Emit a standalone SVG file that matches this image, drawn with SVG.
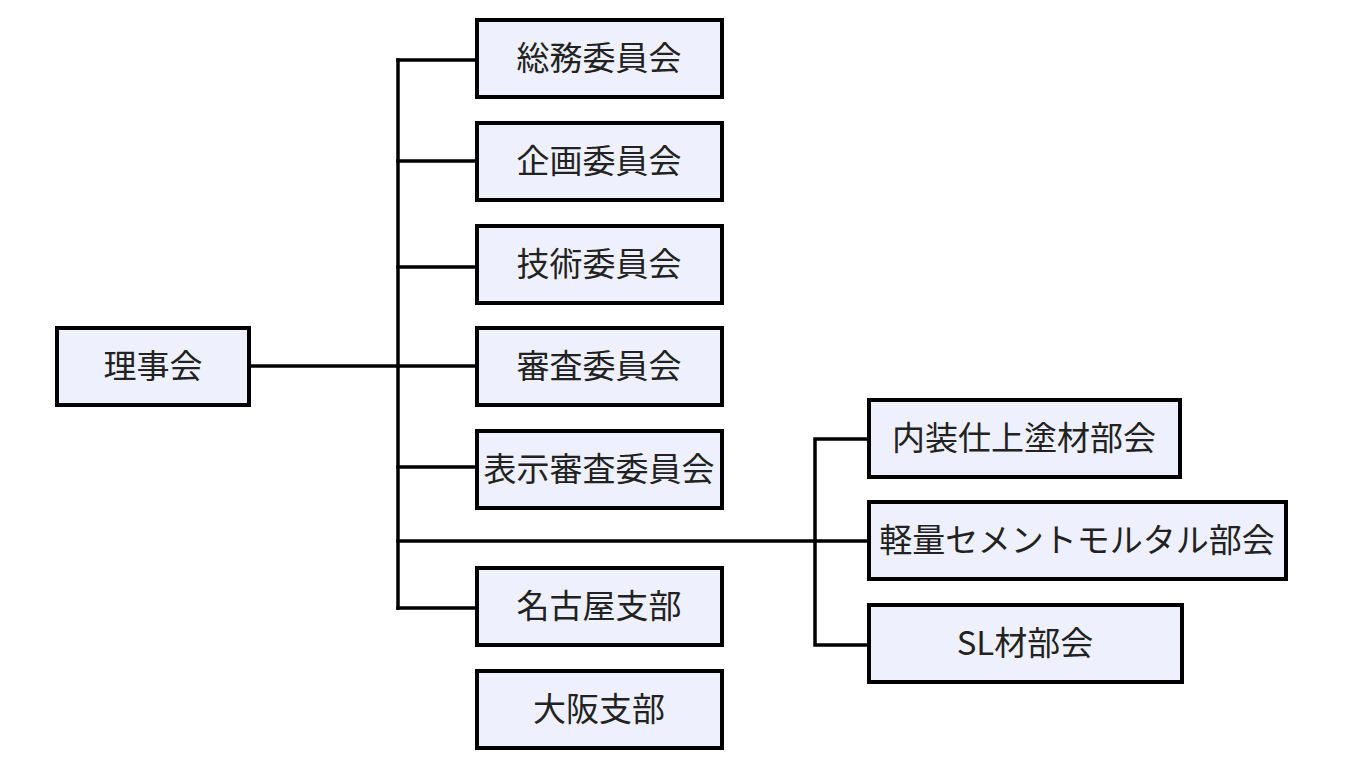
<svg xmlns="http://www.w3.org/2000/svg" width="1366" height="768" viewBox="0 0 1366 768">
<style>
.box{fill:#eef1fd;stroke:#000;stroke-width:4}
.t{font-family:"Noto Sans CJK JP","Noto Sans",sans-serif;font-size:33px;fill:#222;text-anchor:middle}
.c{fill:none;stroke:#000;stroke-width:3.5;stroke-linecap:square}
</style>
<rect width="1366" height="768" fill="#fff"/>
<g id="connectors">
<path class="c" d="M251 366H475"/>
<path class="c" d="M398 60V608"/>
<path class="c" d="M398 60H475M398 161H475M398 267H475M398 467H475M398 608H475"/>
<path class="c" d="M398 541H867"/>
<path class="c" d="M815 439V645M815 439H867M815 645H867"/>
</g>
<g id="n-rijikai"><rect class="box" x="57" y="328" width="192" height="77"/><text class="t" x="153" y="378">理事会</text></g>
<g id="n-somu"><rect class="box" x="477" y="20" width="245" height="77"/><text class="t" x="599" y="70">総務委員会</text></g>
<g id="n-kikaku"><rect class="box" x="477" y="123" width="245" height="77"/><text class="t" x="599" y="173">企画委員会</text></g>
<g id="n-gijutsu"><rect class="box" x="477" y="226" width="245" height="77"/><text class="t" x="599" y="276">技術委員会</text></g>
<g id="n-shinsa"><rect class="box" x="477" y="328" width="245" height="77"/><text class="t" x="599" y="378">審査委員会</text></g>
<g id="n-hyoji"><rect class="box" x="477" y="431" width="245" height="77"/><text class="t" x="599" y="481">表示審査委員会</text></g>
<g id="n-nagoya"><rect class="box" x="477" y="568" width="245" height="77"/><text class="t" x="599" y="618">名古屋支部</text></g>
<g id="n-osaka"><rect class="box" x="477" y="671" width="245" height="77"/><text class="t" x="599" y="721">大阪支部</text></g>
<g id="n-naiso"><rect class="box" x="869" y="400" width="311" height="77"/><text class="t" x="1024" y="450">内装仕上塗材部会</text></g>
<g id="n-keiryo"><rect class="box" x="869" y="502" width="417" height="77"/><text class="t" x="1077" y="552">軽量セメントモルタル部会</text></g>
<g id="n-sl"><rect class="box" x="869" y="605" width="313" height="77"/><text class="t" x="1025" y="655">SL材部会</text></g>
</svg>
